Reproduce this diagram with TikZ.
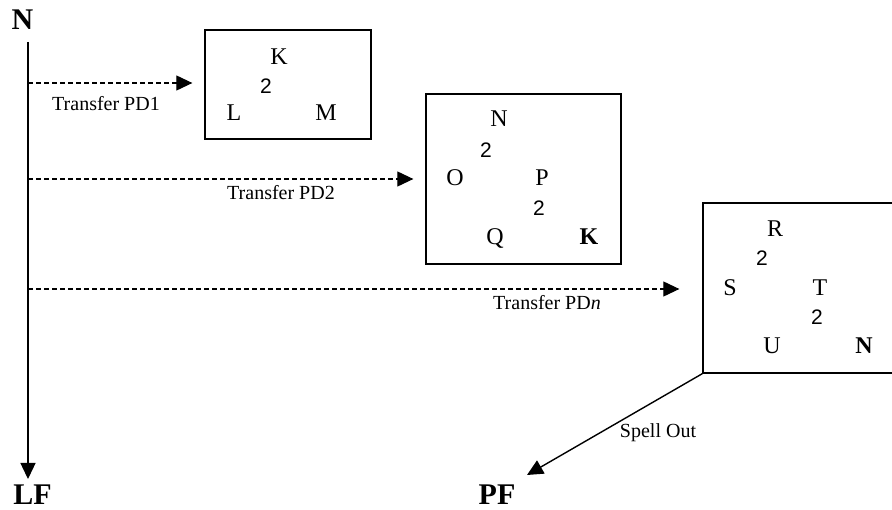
\documentclass[tikz,border=0pt]{standalone}
\usepackage{fontspec}
\setmainfont{Liberation Serif}
\newfontfamily\digitfont{Liberation Sans}
\usetikzlibrary{arrows.meta}
\begin{document}
\begin{tikzpicture}[x=1pt,y=-1pt,
  box/.style={draw, line width=1.3pt, inner sep=0pt},
  letter/.style={font=\fontsize{24}{24}\selectfont, inner sep=0pt},
  bletter/.style={font=\fontsize{24}{24}\selectfont\bfseries, inner sep=0pt},
  digit/.style={font=\digitfont\fontsize{21}{21}\selectfont, inner sep=0pt},
  biglabel/.style={font=\fontsize{30}{30}\selectfont\bfseries, inner sep=0pt},
  small/.style={font=\fontsize{20}{20}\selectfont, inner sep=0pt},
  tip/.style={-{Triangle[length=16pt,width=15pt]}},
  transfer/.style={tip, dash pattern=on 5pt off 3pt, line width=1.1pt},
  solidarrow/.style={tip, line width=1.4pt}]
\clip (0,0) rectangle (892,510);
% top and bottom labels
\node[biglabel] (N0) at (22.5,20) {N};
\node[biglabel] (LF) at (32.5,495) {LF};
\node[biglabel] (PF) at (497,495) {PF};
% main vertical arrow
\coordinate (vtop) at (28,42);
\coordinate (vbot) at (28,479);
\draw[solidarrow] (vtop) -- (vbot);
% boxes
\node[box, minimum width=166pt, minimum height=109pt] (b1) at (288,84.5) {};
\node[box, minimum width=195pt, minimum height=170pt] (b2) at (523.5,179) {};
\node[box, minimum width=202pt, minimum height=170pt] (b3) at (804,288) {};
% box 1 contents
\node[letter] (k1) at (279,57) {K};
\node[digit] (d1) at (266,86) {2};
\node[letter] (l1) at (234,113) {L};
\node[letter] (m1) at (326,113) {M};
% box 2 contents
\node[letter] (n2) at (499,119) {N};
\node[digit] (d2a) at (486,150) {2};
\node[letter] (o2) at (455,178) {O};
\node[letter] (p2) at (542,178) {P};
\node[digit] (d2b) at (539,208) {2};
\node[letter] (q2) at (495,239) {Q};
\node[bletter] (k2) at (589,237) {K};
% box 3 contents
\node[letter] (r3) at (775,229) {R};
\node[digit] (d3a) at (762,258) {2};
\node[letter] (s3) at (730,288) {S};
\node[letter] (t3) at (820,288) {T};
\node[digit] (d3b) at (817,317) {2};
\node[letter] (u3) at (772,346) {U};
\node[bletter] (n3) at (864,346) {N};
% transfer arrows
\coordinate (s1) at (28,83);
\coordinate (s2) at (28,179);
\coordinate (s3) at (28,289);
\draw[transfer, shorten >=12pt] (s1) -- (s1 -| b1.west);
\draw[transfer, shorten >=12pt] (s2) -- (s2 -| b2.west);
\draw[transfer, shorten >=23pt] (s3) -- (s3 -| b3.west);
\node[small] (t1) at (106,104) {Transfer PD1};
\node[small] (t2) at (281,193) {Transfer PD2};
\node[small] (t3) at (547,303) {Transfer PD\textit{n}};
% spell out
\coordinate (spellend) at (527,475);
\draw[solidarrow] (b3.south west) -- (spellend);
\node[small] (so) at (658,433) {Spell Out};
\end{tikzpicture}
\end{document}
